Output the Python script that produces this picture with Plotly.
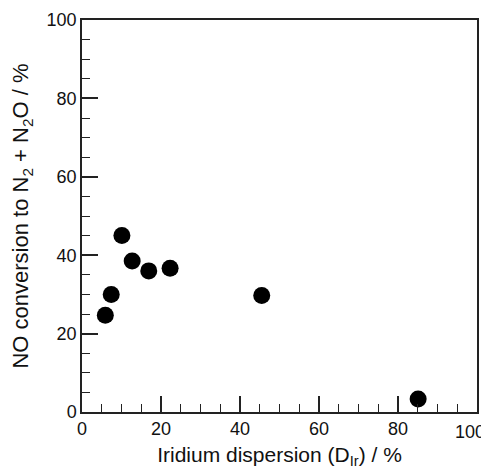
import plotly.graph_objects as go

# Iridium dispersion (%) vs NO conversion to N2 + N2O (%)
dispersao = [5.9, 7.4, 10.1, 12.7, 16.9, 22.3, 45.5, 85.1]
conversao = [24.7, 30.0, 45.0, 38.5, 36.0, 36.7, 29.7, 3.3]
marcas = [0, 20, 40, 60, 80, 100]
rotulos = ["0", "20", "40", "60", "80", "100"]

fonte_ticks = dict(family="Liberation Sans, Arial, sans-serif", size=18, color="#111")

fig = go.Figure()
fig.add_trace(go.Scatter(
    x=dispersao, y=conversao, mode="markers",
    marker=dict(size=17, color="black"),
    showlegend=False,
))

eixo = dict(
    range=[0, 100], tickvals=marcas, ticks="inside", ticklen=16, tickwidth=1.5,
    tickcolor="#222", showline=True, linecolor="#222", linewidth=1.5,
    mirror=True, showgrid=False, zeroline=False, automargin=False,
    minor=dict(dtick=5, ticks="inside", ticklen=8, tickwidth=1.2, tickcolor="#222"),
    tickfont=fonte_ticks,
)

# o ultimo rotulo do eixo x fica como anotacao, alinhado a direita, para nao cortar na borda
fig.update_xaxes(**eixo, ticktext=rotulos[:-1] + [""],
                 title=dict(text="Iridium dispersion (D<sub>Ir</sub>) / %",
                            font=dict(family="Liberation Sans, Arial, sans-serif", size=21, color="#111"),
                            standoff=9))
fig.update_yaxes(**eixo, ticktext=rotulos,
                 title=dict(text="NO conversion to N<sub>2</sub> + N<sub>2</sub>O / %",
                            font=dict(family="Liberation Sans, Arial, sans-serif", size=22, color="#111"),
                            standoff=12))

fig.add_annotation(
    text=rotulos[-1], x=marcas[-1], xref="x", xanchor="right", xshift=10,
    y=0, yref="paper", yanchor="top", yshift=-8,
    showarrow=False, font=fonte_ticks,
)

# a pagina tem margem de 8px no body
fig.update_layout(
    width=481, height=466,
    margin=dict(l=74, r=12, t=12, b=62),
    plot_bgcolor="white", paper_bgcolor="white",
)

fig.write_html("out.html")
